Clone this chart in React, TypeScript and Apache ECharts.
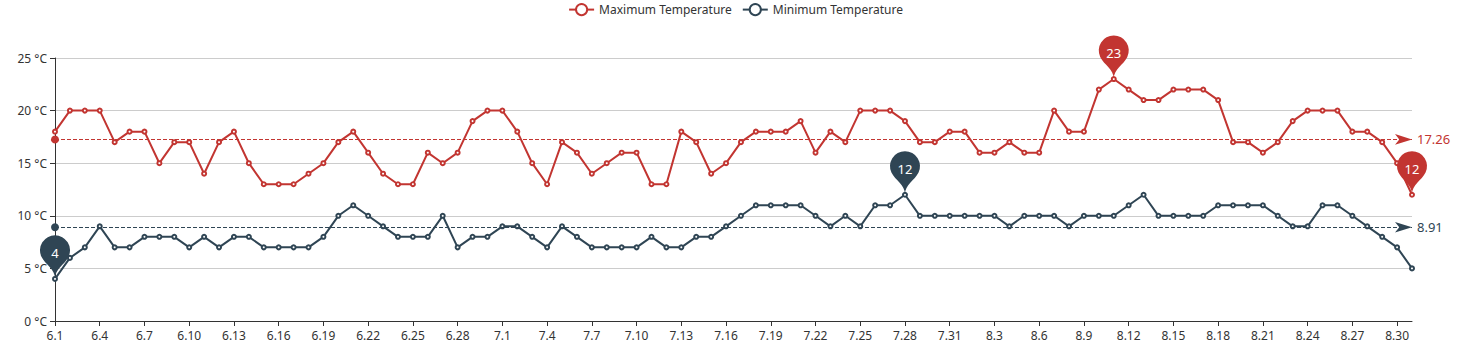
import React, { useEffect, useRef } from "react";
import * as echarts from "echarts";

const dates = [
  "6.1","6.2","6.3","6.4","6.5","6.6","6.7","6.8","6.9","6.10","6.11","6.12","6.13","6.14","6.15","6.16","6.17","6.18","6.19","6.20","6.21","6.22","6.23","6.24","6.25","6.26","6.27","6.28","6.29","6.30",
  "7.1","7.2","7.3","7.4","7.5","7.6","7.7","7.8","7.9","7.10","7.11","7.12","7.13","7.14","7.15","7.16","7.17","7.18","7.19","7.20","7.21","7.22","7.23","7.24","7.25","7.26","7.27","7.28","7.29","7.30","7.31",
  "8.1","8.2","8.3","8.4","8.5","8.6","8.7","8.8","8.9","8.10","8.11","8.12","8.13","8.14","8.15","8.16","8.17","8.18","8.19","8.20","8.21","8.22","8.23","8.24","8.25","8.26","8.27","8.28","8.29","8.30","8.31",
];

const maxTemp = [
  18,20,20,20,17,18,18,15,17,17,14,17,18,15,13,13,13,
  14,15,17,18,16,14,13,13,16,15,16,19,20,20,18,15,13,
  17,16,14,15,16,16,13,13,18,17,14,15,17,18,18,18,19,
  16,18,17,20,20,20,19,17,17,18,18,16,16,17,16,16,
  20,18,18,22,23,22,21,21,22,22,22,21,17,17,16,17,19,
  20,20,20,18,18,17,15,12,
];

const minTemp = [
  4,6,7,9,7,7,8,8,8,7,8,7,8,8,7,7,7,
  7,8,10,11,10,9,8,8,8,10,7,8,8,9,9,8,7,
  9,8,7,7,7,7,8,7,7,8,8,9,10,11,11,11,11,
  10,9,10,9,11,11,12,10,10,10,10,10,10,9,10,10,
  10,9,10,10,10,11,12,10,10,10,10,11,11,11,11,10,9,
  9,11,11,10,9,8,7,5,
];

const seriesNames = ["Maximum Temperature", "Minimum Temperature"];
const colors = ["#c23531", "#2f4554"];

export default function App() {
  const ref = useRef<HTMLDivElement>(null);
  useEffect(() => {
    if (!ref.current) return;
    const chart = echarts.init(ref.current, null, { renderer: "svg" });
    const font = "'Noto Sans', sans-serif";
    const mkSeries = (name: string, data: number[], color: string) => ({
      name,
      type: "line",
      data,
      color,
      symbol: "emptyCircle",
      symbolSize: 4,
      showSymbol: true,
      showAllSymbol: true,
      lineStyle: { width: 2, color },
      itemStyle: { color, borderColor: color, borderWidth: 1 },
      markPoint: {
        symbol: "pin",
        symbolSize: 50,
        itemStyle: { color },
        label: { color: "#fff", fontSize: 13, fontFamily: font },
        data: [
          { type: "max", name: "Max" },
          { type: "min", name: "Min" },
        ],
      },
      markLine: {
        symbol: ["circle", "arrow"],
        symbolSize: [8, 17],
        silent: true,
        lineStyle: { type: "dashed", color, width: 1 },
        label: {
          position: "end",
          color,
          fontSize: 13,
          fontFamily: font,
          formatter: (p: any) => Number(p.value).toFixed(2),
        },
        itemStyle: { color },
        data: [{ type: "average", name: "Avg" }],
      },
    });
    chart.setOption({
      animation: false,
      textStyle: { fontFamily: font },
      legend: {
        top: -2,
        left: "center",
        data: seriesNames,
        itemGap: 10,
        textStyle: { color: "#333", fontSize: 12, fontFamily: font },
      },
      grid: { left: 55, right: 59, top: 58, bottom: 40, containLabel: false },
      xAxis: {
        type: "category",
        boundaryGap: false,
        data: dates,
        axisLine: { show: true, lineStyle: { color: "#333", width: 1 } },
        axisTick: { show: true, interval: 2, lineStyle: { color: "#333" } },
        axisLabel: { interval: 2, color: "#333", fontSize: 12, fontFamily: font },
        splitLine: { show: false },
      },
      yAxis: {
        type: "value",
        min: 0,
        max: 25,
        interval: 5,
        axisLine: { show: true, lineStyle: { color: "#333", width: 1 } },
        axisTick: { show: true, lineStyle: { color: "#333" } },
        axisLabel: { formatter: "{value} °C", color: "#333", fontSize: 12, fontFamily: font },
        splitLine: { show: true, lineStyle: { color: "#ccc", width: 1 } },
      },
      series: [
        mkSeries(seriesNames[0], maxTemp, colors[0]),
        mkSeries(seriesNames[1], minTemp, colors[1]),
      ],
    });
    return () => chart.dispose();
  }, []);
  return (
    <div
      ref={ref}
      style={{ position: "absolute", left: 0, top: 0, width: 1471, height: 361, background: "#fff" }}
    />
  );
}
